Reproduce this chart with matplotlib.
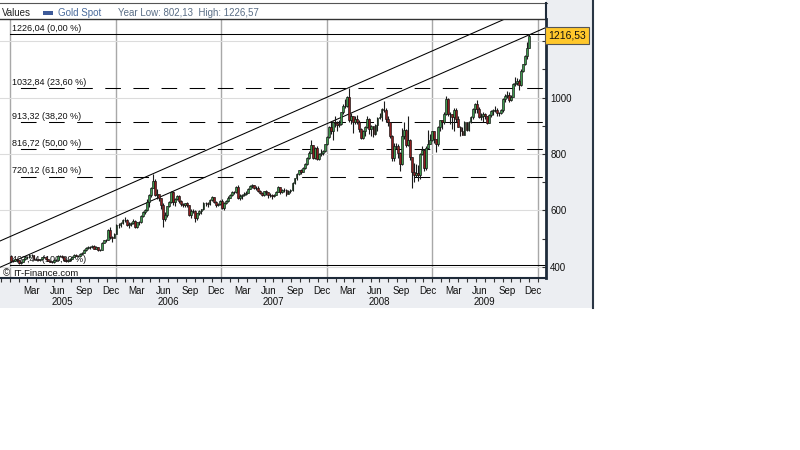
import matplotlib
matplotlib.use('Agg')
import numpy as np
import pandas as pd
import matplotlib.pyplot as plt
import matplotlib.dates as mdates
from matplotlib.patches import Rectangle
from matplotlib.lines import Line2D
from matplotlib.transforms import blended_transform_factory

plt.rcParams['font.family'] = ['Liberation Sans', 'DejaVu Sans']

# weekly gold spot candles, first week starts 2005-01-03
FIRST_WEEK = '2005-01-03'
FIRST_OPEN = 438.0

closes = [
    420, 422, 427, 424, 415, 418, 428, 436, 434, 443, 442, 427, 428, 425, 427, 434, 435, 427, 422, 419, 417, 425, 424, 439, 440, 435,
    423, 421, 423, 429, 437, 444, 440, 440, 446, 450, 460, 467, 472, 470, 475, 465, 471, 461, 461, 485, 494, 497, 531, 505, 504, 518,
    550, 549, 556, 566, 568, 550, 551, 555, 563, 540, 560, 558, 582, 595, 600, 630, 655, 680, 705, 655, 660, 644, 620, 570, 585, 615,
    630, 665, 630, 640, 650, 632, 623, 620, 625, 620, 585, 597, 599, 575, 590, 598, 604, 627, 626, 622, 638, 648, 630, 620, 622, 635,
    610, 628, 632, 646, 655, 665, 665, 683, 645, 652, 654, 660, 663, 677, 688, 691, 678, 678, 668, 663, 655, 668, 664, 655, 656, 650,
    656, 666, 682, 665, 673, 674, 660, 669, 672, 698, 714, 730, 743, 737, 750, 765, 786, 805, 833, 785, 822, 783, 799, 802, 810, 834, 860,
    895, 882, 913, 909, 901, 907, 948, 971, 971, 1001, 920, 933, 913, 925, 915, 888, 857, 880, 895, 925, 889, 898, 872, 903, 929, 932,
    959, 957, 925, 913, 865, 785, 829, 830, 803, 765, 865, 885, 831, 850, 788, 738, 726, 733, 725, 800, 815, 751, 822, 837, 849, 880,
    853, 837, 897, 919, 913, 943, 995, 940, 940, 930, 955, 923, 897, 882, 869, 912, 885, 915, 930, 958, 978, 960, 932, 933,
    940, 933, 911, 937, 952, 955, 957, 946, 946, 955, 996, 1006, 1008, 990, 1003, 1049, 1051, 1057, 1045, 1095, 1118, 1147, 1175, 1216.53,
]
highs = [
    441, 426, 429, 428, 426, 420, 430, 438, 439, 446, 445, 443, 431, 430, 430, 437, 438, 436, 429, 423, 422, 427, 429, 441, 444, 442,
    436, 428, 426, 431, 439, 446, 447, 443, 448, 452, 462, 470, 476, 475, 478, 477, 474, 472, 465, 487, 496, 500, 534, 541, 509, 520,
    552, 557, 560, 569, 576, 571, 560, 559, 569, 566, 561, 563, 585, 598, 606, 640, 658, 683, 730, 712, 675, 655, 645, 625, 595, 617,
    635, 668, 670, 645, 656, 654, 637, 627, 628, 630, 621, 605, 604, 600, 592, 601, 606, 629, 631, 630, 641, 650, 648, 633, 628, 638,
    640, 630, 637, 652, 658, 668, 669, 687, 690, 658, 658, 664, 669, 680, 691, 695, 692, 685, 687, 672, 667, 670, 672, 666, 661, 659,
    659, 668, 685, 684, 676, 680, 676, 672, 676, 701, 716, 734, 745, 746, 753, 769, 789, 809, 848, 833, 825, 830, 803, 816, 813, 837, 865,
    900, 914, 917, 934, 918, 919, 950, 976, 993, 1005, 1032, 945, 934, 936, 939, 920, 891, 886, 900, 935, 928, 903, 900, 906, 932, 946,
    962, 989, 962, 933, 915, 866, 840, 840, 834, 806, 893, 912, 890, 935, 852, 790, 767, 764, 760, 802, 830, 818, 830, 885, 872, 882,
    880, 852, 900, 920, 922, 950, 1006, 1000, 950, 942, 962, 962, 935, 900, 895, 917, 915, 918, 934, 962, 981, 990, 965, 946,
    948, 945, 936, 940, 956, 960, 970, 962, 950, 960, 1000, 1011, 1024, 1020, 1010, 1050, 1072, 1070, 1067, 1101, 1120, 1152, 1195, 1226.04,
]
lows = [
    418, 418, 420, 419, 411, 411, 417, 426, 430, 432, 438, 424, 424, 423, 422, 426, 431, 425, 420, 416, 414, 415, 422, 423, 436, 433,
    421, 419, 417, 421, 428, 435, 438, 436, 439, 443, 449, 458, 465, 465, 467, 462, 462, 458, 456, 460, 484, 490, 496, 500, 490, 502,
    516, 537, 541, 553, 560, 545, 538, 545, 552, 537, 539, 549, 556, 578, 588, 598, 612, 648, 678, 650, 640, 632, 605, 543, 563, 576,
    611, 625, 621, 615, 638, 628, 615, 613, 613, 614, 580, 573, 590, 560, 567, 585, 588, 602, 615, 614, 620, 635, 626, 614, 616, 620,
    605, 602, 623, 630, 643, 652, 658, 663, 640, 636, 642, 650, 655, 661, 675, 680, 675, 672, 665, 660, 650, 653, 656, 645, 649, 642,
    648, 654, 664, 660, 661, 664, 653, 658, 663, 670, 695, 709, 727, 728, 735, 748, 762, 783, 803, 781, 783, 780, 778, 793, 796, 808, 832,
    856, 871, 850, 896, 880, 895, 903, 940, 962, 966, 915, 905, 876, 905, 907, 877, 852, 853, 862, 893, 872, 865, 860, 867, 882, 924,
    918, 947, 913, 898, 858, 777, 774, 818, 785, 740, 760, 853, 825, 827, 780, 681, 700, 719, 705, 710, 795, 740, 745, 818, 835, 847,
    840, 806, 828, 880, 888, 905, 938, 935, 905, 890, 882, 915, 895, 865, 866, 867, 880, 880, 911, 925, 944, 945, 928, 920,
    915, 925, 905, 910, 930, 938, 950, 935, 933, 940, 950, 985, 998, 985, 986, 1002, 1040, 1045, 1025, 1040, 1091, 1115, 1136, 1176,
]

fib_levels = [1226.04, 1032.84, 913.32, 816.72, 720.12, 407.44]
fib_labels = ['1226,04 (0,00 %)', '1032,84 (23,60 %)', '913,32 (38,20 %)',
              '816,72 (50,00 %)', '720,12 (61,80 %)', '407,44 (100,00 %)']
fib_solid = [True, False, False, False, False, True]
fib_start = '2005-01-01'

trend_dates = ['2004-11-27', '2010-01-29']
trend_upper = [492, 1342]
trend_lower = [399, 1248]

price_ticks = [400, 600, 800, 1000, 1200]
price_labels = ['400', '600', '800', '1000', '']  # 1200 sits under the price tag
price_minor = [500, 700, 900, 1100]
month_labels = ['Mar', 'Jun', 'Sep', 'Dec']
years = [2005, 2006, 2007, 2008, 2009]
year_labels = ['2005', '2006', '2007', '2008', '2009']

last_price_label = '1216,53'
header_title = 'Values'
series_name = 'Gold Spot'
header_info = 'Year Low: 802,13  High: 1226,57'
watermark = 'IT-Finance.com'

assert len(closes) == len(highs) == len(lows)

W, H = 800, 450


def fx(px):
    return px / W


def fy(py):
    return 1 - py / H


fig = plt.figure(figsize=(8, 4.5), dpi=100)
fig.patch.set_facecolor('white')

# grey panels for the axes
panel = '#ECEEF2'
fig.patches.append(Rectangle((fx(546), fy(308)), 46 / W, 308 / H, transform=fig.transFigure,
                             facecolor=panel, edgecolor='none', zorder=-1))
fig.patches.append(Rectangle((0, fy(308)), 546 / W, 30 / H, transform=fig.transFigure,
                             facecolor=panel, edgecolor='none', zorder=-1))
frame = '#1E2B3A'
fig.lines.append(Line2D([0, fx(547)], [fy(2.5), fy(2.5)], transform=fig.transFigure, color='#555', lw=0.8))
fig.lines.append(Line2D([fx(546), fx(546)], [fy(2.5), fy(19)], transform=fig.transFigure, color=frame, lw=1.5))
fig.lines.append(Line2D([fx(592.5), fx(592.5)], [fy(0), fy(308)], transform=fig.transFigure, color='#2A3645', lw=1.5))

ax = fig.add_axes([0, fy(278), 546 / W, 259 / H])
ax.set_facecolor('white')

x0, x1 = mdates.datestr2num(trend_dates[0]), mdates.datestr2num(trend_dates[1])

# grid
for yr in years + [years[-1] + 1]:
    ax.axvline(mdates.datestr2num(f'{yr}-01-01'), color='#A8A8A8', lw=1, zorder=1)
for p in price_ticks:
    ax.axhline(p, color='#DCDCDC', lw=0.8, zorder=1)

# fibonacci levels
fs = mdates.datestr2num(fib_start)
lbl_tr = blended_transform_factory(ax.transAxes, ax.transData)
for lvl, lab, solid in zip(fib_levels, fib_labels, fib_solid):
    ls = '-' if solid else (17, (15, 12))
    ax.plot([fs, x1], [lvl, lvl], color='black', lw=0.75, ls=ls, zorder=2)
    ax.text(12 / 546, lvl + 4, lab, transform=lbl_tr, fontsize=6.5, color='#111',
            va='bottom', ha='left', zorder=2)

# trend channel
ax.plot([x0, x1], trend_upper, color='black', lw=0.75, zorder=2)
ax.plot([x0, x1], trend_lower, color='black', lw=0.75, zorder=2)

# candles
dates = pd.date_range(FIRST_WEEK, periods=len(closes), freq='7D')
xs = mdates.date2num(dates) + 2
c = np.array(closes, dtype=float)
o = np.r_[FIRST_OPEN, c[:-1]]
up = c >= o
ax.vlines(xs, lows, highs, color='#1a1a1a', lw=0.8, zorder=3)
ax.bar(xs[up], (c - o)[up], bottom=o[up], width=6.5, color='#3E9A4E', edgecolor='#111', lw=0.45, zorder=4)
ax.bar(xs[~up], (o - c)[~up], bottom=c[~up], width=6.5, color='#8E1F1F', edgecolor='#111', lw=0.45, zorder=4)

# axes styling
ax.spines['left'].set_visible(False)
ax.spines['right'].set_color(frame)
ax.spines['right'].set_linewidth(2)
ax.spines['bottom'].set_color(frame)
ax.spines['bottom'].set_linewidth(1.5)
ax.spines['top'].set_color('#333')
ax.spines['top'].set_linewidth(1)

ax.yaxis.tick_right()
ax.set_yticks(price_ticks, price_labels)
ax.set_yticks(price_minor, minor=True)
ax.tick_params(axis='y', which='both', direction='in', color='#333', labelsize=7, pad=3,
               left=False, right=True, labelcolor='#111', length=3, width=0.8)

ax.xaxis.set_major_locator(mdates.MonthLocator())
ax.tick_params(axis='x', which='major', direction='out', length=3, width=0.8, color='#333', labelbottom=False)
mpos, mlab = [], []
for yr in years:
    for m, lab in zip([3, 6, 9, 12], month_labels):
        mpos.append(mdates.datestr2num(f'{yr}-{m:02d}-15'))
        mlab.append(lab)
ax.set_xticks(mpos, mlab, minor=True)
ax.tick_params(axis='x', which='minor', length=0, pad=6, labelsize=7, labelcolor='#111')

# limits last, so tick setting cannot widen them
ax.set_xlim(x0, x1)
ax.set_ylim(361, 1278)

for yr, lab in zip(years, year_labels):
    ax.text(mdates.datestr2num(f'{yr}-07-01'), -24 / 259, lab, transform=ax.get_xaxis_transform(),
            ha='center', va='center', fontsize=7, color='#111', clip_on=False)

# header
fig.text(fx(2), fy(12.5), header_title, fontsize=7, color='#222', va='center')
fig.patches.append(Rectangle((fx(43), fy(14.5)), 10 / W, 3 / H, transform=fig.transFigure,
                             facecolor='#3D5A99', edgecolor='none'))
fig.text(fx(58), fy(12.5), series_name, fontsize=7, color='#4A6B9C', va='center')
fig.text(fx(118), fy(12.5), header_info, fontsize=7, color='#5A6E86', va='center')

# watermark
fig.text(fx(2.5), fy(273), '\u00a9', fontsize=7, color='#222', va='center')
fig.text(fx(13), fy(273), watermark, fontsize=6.8, color='#111', va='center')

# last price tag
fig.text(fx(548), fy(35.5), last_price_label, fontsize=7.5, color='#111', va='center', ha='left',
         bbox=dict(boxstyle='square,pad=0.32', fc='#FFC72C', ec='#555', lw=0.8), zorder=5)

fig.savefig('out.png', dpi=100)
